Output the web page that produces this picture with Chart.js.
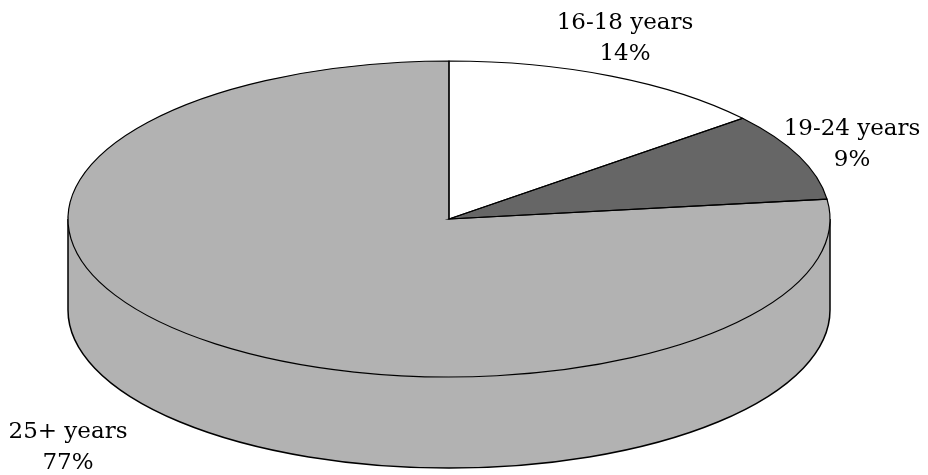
<!DOCTYPE html>
<html>
<head>
<meta charset="utf-8">
<title>Age groups</title>
<script src="https://cdn.jsdelivr.net/npm/chart.js@4"></script>
<style>
    html, body { margin: 0; padding: 0; background: #ffffff; }
    #box { position: relative; width: 928px; height: 475px; }
</style>
</head>
<body>
<div id="box"><canvas id="grafico"></canvas></div>
<script>
const categories = ['16-18 years', '19-24 years', '25+ years'];
const shares = [14, 9, 77];
const sliceColors = ['#ffffff', '#666666', '#b2b2b2'];
const labelSpots = [[625, 29], [852, 135], [68, 438]]; // baseline of first text line

// where the flattened pie sits on the page
const centroX = 449, centroY = 219, raioX = 381, raioY = 158, altura = 91;

const pie3d = {
    id: 'pie3d',
    beforeDatasetsDraw(chart) {
        const ctx = chart.ctx;
        const arcs = chart.getDatasetMeta(0).data;

        // lateral do disco, so a metade da frente aparece
        arcs.forEach((arc, i) => {
            const ini = Math.max(arc.startAngle, 0);
            const fim = Math.min(arc.endAngle, Math.PI);
            if (fim <= ini) return;
            ctx.beginPath();
            ctx.ellipse(centroX, centroY, raioX, raioY, 0, ini, fim);
            ctx.ellipse(centroX, centroY + altura, raioX, raioY, 0, fim, ini, true);
            ctx.closePath();
            ctx.fillStyle = sliceColors[i];
            ctx.fill();
        });
        ctx.beginPath();
        ctx.moveTo(centroX + raioX, centroY);
        ctx.lineTo(centroX + raioX, centroY + altura);
        ctx.ellipse(centroX, centroY + altura, raioX, raioY, 0, 0, Math.PI);
        ctx.lineTo(centroX - raioX, centroY);
        ctx.strokeStyle = '#000000';
        ctx.lineWidth = 1.5;
        ctx.stroke();

        // achata o desenho das fatias
        const arc0 = arcs[0];
        const r = arc0.outerRadius;
        ctx.save();
        ctx.translate(centroX, centroY);
        ctx.scale(raioX / r, raioY / r);
        ctx.translate(-arc0.x, -arc0.y);
    },
    afterDatasetsDraw(chart) {
        const ctx = chart.ctx;
        ctx.restore();

        // contorno das fatias com linha uniforme
        chart.getDatasetMeta(0).data.forEach(arc => {
            ctx.beginPath();
            ctx.moveTo(centroX, centroY);
            ctx.ellipse(centroX, centroY, raioX, raioY, 0, arc.startAngle, arc.endAngle);
            ctx.closePath();
            ctx.strokeStyle = '#000000';
            ctx.lineWidth = 1.2;
            ctx.stroke();
        });

        ctx.fillStyle = '#000000';
        ctx.font = '23px "DejaVu Serif"';
        ctx.textAlign = 'center';
        ctx.textBaseline = 'alphabetic';
        categories.forEach((nome, i) => {
            ctx.fillText(nome, labelSpots[i][0], labelSpots[i][1]);
            ctx.fillText(shares[i] + '%', labelSpots[i][0], labelSpots[i][1] + 31);
        });
    }
};

new Chart(document.getElementById('grafico').getContext('2d'), {
    type: 'pie',
    data: {
        labels: categories,
        datasets: [{
            data: shares,
            backgroundColor: sliceColors,
            borderWidth: 0
        }]
    },
    options: {
        responsive: true,
        maintainAspectRatio: false,
        animation: false,
        plugins: {
            legend: { display: false },
            tooltip: { enabled: false }
        }
    },
    plugins: [pie3d]
});
</script>
</body>
</html>
